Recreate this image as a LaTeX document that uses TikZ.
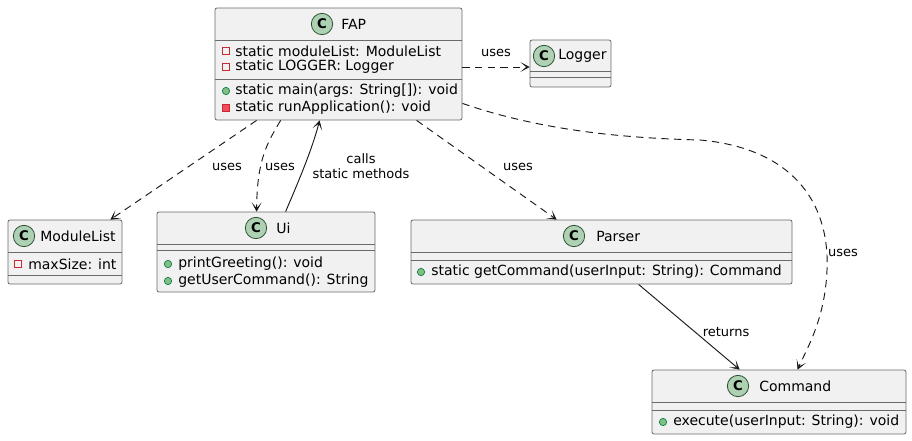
\documentclass[tikz,border=0pt]{standalone}
\usepackage{fontspec}
\setmainfont{DejaVu Sans}
\usetikzlibrary{arrows.meta,fit}
\definecolor{boxfill}{HTML}{F1F1F1}
\definecolor{boxline}{HTML}{6A6A6A}
\definecolor{cfill}{HTML}{ADD1B2}
\definecolor{cline}{HTML}{2F4F33}
\definecolor{privred}{HTML}{C82930}
\definecolor{privfill}{HTML}{F24D5C}
\definecolor{pubfill}{HTML}{84BE84}
\definecolor{publine}{HTML}{038048}
\definecolor{edge}{HTML}{181818}
\tikzset{
  classbox/.style={draw=boxline, fill=boxfill, rounded corners=1.5pt, inner sep=0pt, line width=0.6pt},
  sepline/.style={draw=boxline, line width=0.6pt},
  cicon/.style={circle, fill=cfill, draw=cline, line width=0.6pt, minimum size=16pt, inner sep=0pt, font=\bfseries\fontsize{10}{10}\selectfont},
  ctitle/.style={anchor=west, inner sep=0pt, font=\fontsize{10.5}{12}\selectfont},
  member/.style={anchor=west, inner sep=0pt, font=\fontsize{10.5}{12}\selectfont},
  lbl/.style={inner sep=0pt, font=\fontsize{9.75}{11}\selectfont, align=center},
  privfield/.style={draw=privred, line width=0.6pt, minimum size=5pt, inner sep=0pt},
  privmeth/.style={draw=privred, fill=privfill, line width=0.6pt, minimum size=5pt, inner sep=0pt},
  pubmeth/.style={circle, draw=publine, fill=pubfill, line width=0.5pt, minimum size=5.5pt, inner sep=0pt},
  tip/.tip={Stealth[length=7pt,width=7.5pt,inset=4.5pt,line width=0.4pt]},
  dep/.style={draw=edge, line width=0.7pt, dash pattern=on 5.5pt off 4pt, -tip},
  assoc/.style={draw=edge, line width=0.7pt, -tip},
}
\begin{document}
\begin{tikzpicture}[x=0.75pt,y=-0.75pt]
\useasboundingbox (0,0) rectangle (912,440);

% FAP
\node[classbox, fit={(215,8) (462,120)}] (fap) {};
\draw[sepline] (215,40) -- (462,40);
\draw[sepline] (215,79) -- (462,79);
\node[cicon] (fapc) at (322,24) {C};
\node[ctitle] (fapt) at (341,24) {FAP};
\node[privfield] (fi1) at (226,51) {};
\node[member] (fm1) at (235,51) {static moduleList: ModuleList};
\node[privfield] (fi2) at (226,67) {};
\node[member] (fm2) at (235,67) {static LOGGER: Logger};
\node[pubmeth] (fi3) at (226,91) {};
\node[member] (fm3) at (235,91) {static main(args: String[]): void};
\node[privmeth] (fi4) at (226,108) {};
\node[member] (fm4) at (235,108) {static runApplication(): void};

% Logger
\node[classbox, fit={(530,40) (611,87)}] (logger) {};
\draw[sepline] (530,71) -- (611,71);
\draw[sepline] (530,77) -- (611,77);
\node[cicon] (logc) at (544,56) {C};
\node[ctitle] (logt) at (558,56) {Logger};

% ModuleList
\node[classbox, fit={(8,220) (122,284)}] (ml) {};
\draw[sepline] (8,252) -- (122,252);
\draw[sepline] (8,275) -- (122,275);
\node[cicon] (mlc) at (24,236) {C};
\node[ctitle] (mlt) at (40,236) {ModuleList};
\node[privfield] (mli) at (18,264) {};
\node[member] (mlm) at (28,264) {maxSize: int};

% Ui
\node[classbox, fit={(157,212) (375,292)}] (ui) {};
\draw[sepline] (157,244) -- (375,244);
\draw[sepline] (157,250) -- (375,250);
\node[cicon] (uic) at (256,228) {C};
\node[ctitle] (uit) at (276,228) {Ui};
\node[pubmeth] (uii1) at (168,264) {};
\node[member] (uim1) at (178,264) {printGreeting(): void};
\node[pubmeth] (uii2) at (168,281) {};
\node[member] (uim2) at (178,281) {getUserCommand(): String};

% Parser
\node[classbox, fit={(411,220) (792,284)}] (parser) {};
\draw[sepline] (411,252) -- (792,252);
\draw[sepline] (411,260) -- (792,260);
\node[cicon] (pc) at (574,236) {C};
\node[ctitle] (pt) at (596,236) {Parser};
\node[pubmeth] (pi) at (421,272) {};
\node[member] (pm) at (431,272) {static getCommand(userInput: String): Command};

% Command
\node[classbox, fit={(652,370) (906,434)}] (cmd) {};
\draw[sepline] (652,402) -- (906,402);
\draw[sepline] (652,410) -- (906,410);
\node[cicon] (cc) at (738,386) {C};
\node[ctitle] (ct) at (759,386) {Command};
\node[pubmeth] (ci) at (663,422) {};
\node[member] (cm) at (673,422) {execute(userInput: String): void};

% connectors
\draw[dep] (fap.east |- fm2.west) -- (logger.west |- fm2.west);
\node[lbl] (l1) at (496,53) {uses};

\draw[dep] ([xshift=42*0.75pt]fap.south west) -- ([xshift=-12*0.75pt]ml.north east);
\node[lbl] (l2) at (227,167) {uses};

\draw[dep] ([xshift=66*0.75pt]fap.south west) .. controls (268,142) and (257,158) .. ([xshift=100*0.75pt]ui.north west);
\node[lbl] (l3) at (280,167) {uses};

\draw[assoc] ([xshift=129*0.75pt]ui.north west) .. controls (297,185) and (312,150) .. ([xshift=105*0.75pt]fap.south west);
\node[lbl] (l4) at (361,166) {calls\\static methods};

\draw[dep] ([xshift=202*0.75pt]fap.south west) -- ([xshift=146*0.75pt]parser.north west);
\node[lbl] (l5) at (518,167) {uses};

\draw[dep] ([yshift=-(103-120)*0.75pt]fap.south east) .. controls (540,130) and (620,138) .. (700,140)
   .. controls (790,148) and (830,200) .. (827,270)
   .. controls (825,320) and (806,350) .. ([xshift=146*0.75pt]cmd.north west);
\node[lbl] (l6) at (843,253) {uses};

\draw[assoc] ([xshift=228*0.75pt]parser.south west) -- ([xshift=88*0.75pt]cmd.north west);
\node[lbl] (l7) at (726,332) {returns};
\end{tikzpicture}
\end{document}
